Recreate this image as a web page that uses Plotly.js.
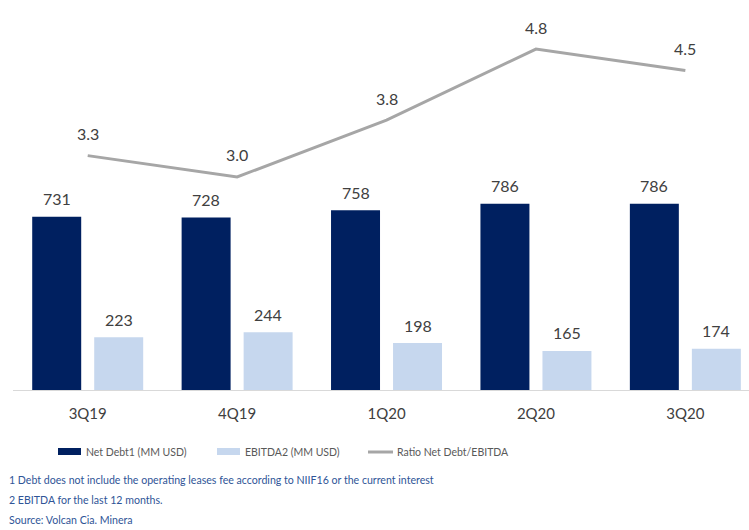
<!DOCTYPE html>
<html>
<head>
<meta charset="utf-8">
<script src="https://cdn.plot.ly/plotly-3.0.1.min.js"></script>
<style>html,body{margin:0;padding:0;background:#fff;}#chart{width:749px;height:530px;}</style>
</head>
<body>
<div id="chart"></div>
<script>
const categories = ['3Q19', '4Q19', '1Q20', '2Q20', '3Q20'];
const netDebt = [731, 728, 758, 786, 786];
const ebitda = [223, 244, 198, 165, 174];
const ratio = [3.3, 3.0, 3.8, 4.8, 4.5];
const seriesNames = ['Net Debt1 (MM USD)', 'EBITDA2 (MM USD)', 'Ratio Net Debt/EBITDA'];
const seriesColors = ['#002060', '#c6d7ee', '#a6a6a6'];
const footnotes = [
  '1 Debt does not include the operating leases fee according to NIIF16 or the current interest',
  '2 EBITDA for the last 12 months.',
  'Source: Volcan Cia. Minera'
];

const FONT = 'Lato, "Open Sans", sans-serif';
const TXT = '#404040';

// pixel -> paper helpers (plot area: x 13..749, y 20..390)
const L = 13, PW = 736, T = 20, PH = 370;
const px = v => (v - L) / PW;
const py = v => (T + PH - v) / PH;

const traces = [
  {type: 'bar', x: categories, y: netDebt, name: seriesNames[0],
   marker: {color: seriesColors[0]}, hoverinfo: 'none', showlegend: false},
  {type: 'bar', x: categories, y: ebitda, name: seriesNames[1],
   marker: {color: seriesColors[1]}, hoverinfo: 'none', showlegend: false},
  {type: 'scatter', mode: 'lines', x: categories, y: ratio, name: seriesNames[2],
   yaxis: 'y2', line: {color: seriesColors[2], width: 3}, hoverinfo: 'none', showlegend: false}
];

const annotations = [];
categories.forEach((c, i) => {
  annotations.push({x: c, y: netDebt[i], xref: 'x', yref: 'y', text: String(netDebt[i]),
    showarrow: false, xshift: -31, yshift: 18, font: {family: FONT, size: 16, color: TXT}});
  annotations.push({x: c, y: ebitda[i], xref: 'x', yref: 'y', text: String(ebitda[i]),
    showarrow: false, xshift: 31, yshift: 18, font: {family: FONT, size: 16, color: TXT}});
  annotations.push({x: c, y: ratio[i], xref: 'x', yref: 'y2', text: ratio[i].toFixed(1),
    showarrow: false, yshift: 22, font: {family: FONT, size: 16, color: TXT}});
});
footnotes.forEach((t, i) => {
  annotations.push({x: px(7), y: py(480 + i * 20), xref: 'paper', yref: 'paper',
    xanchor: 'left', yanchor: 'middle', text: t, showarrow: false,
    font: {family: FONT, size: 10.6, color: '#2f5597'}});
});

// manual legend
const legX = [58, 217, 368];
const shapes = [];
seriesNames.forEach((n, i) => {
  if (i < 2) {
    shapes.push({type: 'rect', xref: 'paper', yref: 'paper',
      x0: px(legX[i]), x1: px(legX[i] + 23), y0: py(455), y1: py(448),
      fillcolor: seriesColors[i], line: {width: 0}});
  } else {
    shapes.push({type: 'line', xref: 'paper', yref: 'paper',
      x0: px(legX[i]), x1: px(legX[i] + 25), y0: py(452), y1: py(452),
      line: {color: seriesColors[i], width: 3}});
  }
  annotations.push({x: px(legX[i] + (i < 2 ? 26 : 27)), y: py(452), xref: 'paper', yref: 'paper',
    xanchor: 'left', yanchor: 'middle', text: n, showarrow: false,
    font: {family: FONT, size: 10.5, color: '#595959'}});
});

const layout = {
  width: 749, height: 530,
  margin: {l: L, r: 0, t: T, b: 140},
  paper_bgcolor: '#fff', plot_bgcolor: '#fff',
  font: {family: FONT, color: TXT},
  barmode: 'group', bargap: 0.17, bargroupgap: 0.21,
  showlegend: false,
  xaxis: {type: 'category', range: [-0.5, 4.426], showline: true, linecolor: '#d9d9d9',
    linewidth: 1, ticks: '', showgrid: false, zeroline: false, ticklabelstandoff: 10,
    tickfont: {family: FONT, size: 15, color: TXT}, fixedrange: true},
  yaxis: {range: [0, 1561], visible: false, showgrid: false, zeroline: false},
  yaxis2: {range: [0, 5.21], overlaying: 'y', side: 'right', visible: false,
    showgrid: false, zeroline: false},
  shapes: shapes,
  annotations: annotations
};

Plotly.newPlot('chart', traces, layout, {displayModeBar: false, staticPlot: true});
</script>
</body>
</html>
